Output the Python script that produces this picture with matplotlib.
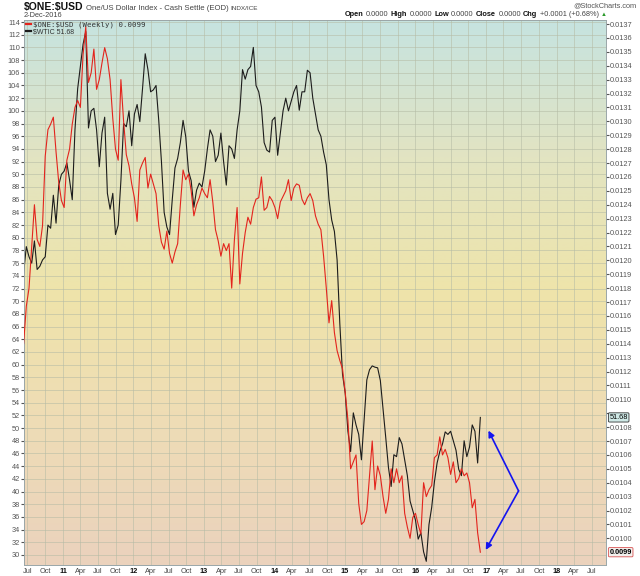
import matplotlib
matplotlib.use("Agg")
import matplotlib.pyplot as plt
import matplotlib.transforms as mtransforms
from matplotlib.colors import LinearSegmentedColormap
import numpy as np
import pandas as pd

plt.rcParams["font.family"] = ["Liberation Sans", "DejaVu Sans"]

# ---------------------------------------------------------------
# data (one point every two weeks)
# ---------------------------------------------------------------
start_date = "2010-06-11"

# $WTIC crude oil, left scale
wtic = [
    74.4, 78.6, 77.0, 76.0, 79.5, 75.0, 75.5, 76.5, 77.0, 82.0,
    81.5, 86.7, 82.3, 88.3, 90.0, 90.5, 91.8, 89.1, 86.0, 97.0,
    103.5, 107.0, 110.5, 112.5, 97.3, 100.0, 100.4, 97.0, 91.2, 96.5,
    99.0, 87.0, 84.5, 87.0, 80.5, 82.0, 89.0, 98.0, 97.5, 100.0,
    94.5, 99.5, 101.0, 98.3, 103.5, 109.0, 106.5, 103.0, 103.3, 104.0,
    98.5, 92.0, 84.0, 81.7, 80.5, 86.0, 91.0, 92.5, 95.0, 98.5,
    95.9, 90.5, 89.0, 84.8, 87.5, 88.6, 88.0, 90.5, 94.0, 97.0,
    96.0, 92.0, 93.0, 96.5, 92.0, 88.3, 94.5, 94.0, 92.5, 97.0,
    100.0, 106.5, 105.0, 106.5, 107.0, 110.0, 104.0, 103.0, 100.6, 95.0,
    93.8, 93.5, 98.5, 99.0, 93.0, 96.5, 100.0, 102.0, 100.0, 101.5,
    103.0, 104.0, 100.1, 103.0, 103.0, 106.4, 106.0, 102.0, 99.5, 97.0,
    96.0, 93.5, 91.5, 86.0, 82.8, 81.0, 76.5, 66.5, 58.5, 55.5,
    49.5, 46.3, 52.4, 50.5, 49.0, 45.0, 51.3, 57.6, 59.2, 59.8,
    59.6, 59.5, 57.5, 53.0, 48.5, 43.8, 40.8, 45.8, 45.5, 48.5,
    47.5, 45.0, 42.5, 38.5, 37.0, 35.5, 32.5, 33.5, 30.5, 29.0,
    34.8, 37.5, 41.5, 44.5, 46.3, 47.5, 49.4, 49.0, 49.5, 48.0,
    46.5, 43.5, 42.5, 48.0, 45.5, 47.0, 50.5, 49.5, 44.5, 51.68,
]

# $ONE:$USD (1 / US Dollar Index), right scale
one_usd = [
    0.01140, 0.01167, 0.01180, 0.01210, 0.01240, 0.01215, 0.01210, 0.01225, 0.01275, 0.01294,
    0.01298, 0.01303, 0.01278, 0.01256, 0.01243, 0.01238, 0.01272, 0.01280, 0.01298, 0.01310,
    0.01315, 0.01310, 0.01348, 0.01368, 0.01328, 0.01335, 0.01352, 0.01323, 0.01330, 0.01342,
    0.01353, 0.01345, 0.01330, 0.01302, 0.01280, 0.01272, 0.01330, 0.01300, 0.01276, 0.01268,
    0.01255, 0.01245, 0.01228, 0.01265, 0.01270, 0.01274, 0.01252, 0.01262, 0.01255, 0.01248,
    0.01225, 0.01213, 0.01208, 0.01221, 0.01205, 0.01198, 0.01206, 0.01212, 0.01240, 0.01265,
    0.01258, 0.01262, 0.01250, 0.01232, 0.01240, 0.01245, 0.01252, 0.01248, 0.01245, 0.01258,
    0.01242, 0.01222, 0.01214, 0.01203, 0.01212, 0.01207, 0.01212, 0.01180, 0.01215, 0.01238,
    0.01183, 0.01205, 0.01220, 0.01231, 0.01226, 0.01238, 0.01244, 0.01245, 0.01260, 0.01236,
    0.01238, 0.01246, 0.01243, 0.01238, 0.01230, 0.01242, 0.01246, 0.01250, 0.01258, 0.01243,
    0.01252, 0.01255, 0.01254, 0.01244, 0.01240, 0.01245, 0.01248, 0.01243, 0.01232, 0.01226,
    0.01222, 0.01203, 0.01180, 0.01155, 0.01171, 0.01148, 0.01135, 0.01128, 0.01122, 0.01105,
    0.01085, 0.01050, 0.01055, 0.01060, 0.01025, 0.01010, 0.01012, 0.01020, 0.01045, 0.01070,
    0.01035, 0.01052, 0.01045, 0.01030, 0.01018, 0.01028, 0.01050, 0.01040, 0.01050, 0.01040,
    0.01045, 0.01018, 0.01008, 0.01000, 0.01015, 0.01018, 0.01010, 0.01003, 0.01040, 0.01030,
    0.01035, 0.01038, 0.01058, 0.01060, 0.01073, 0.01060, 0.01064, 0.01058, 0.01046, 0.01055,
    0.01040, 0.01043, 0.01050, 0.01045, 0.01047, 0.01040, 0.01022, 0.01028, 0.01004, 0.00990,
]

dates = pd.date_range(start=start_date, periods=len(wtic), freq="14D")

left_ticks = np.arange(30, 115, 2)
right_ticks = np.round(np.arange(0.0100, 0.01375, 0.0001), 4)
tick_dates = pd.date_range("2010-07-01", "2018-07-01", freq="QS-JAN")

# hand-drawn arrows (left scale)
arrow_vertex = (pd.Timestamp("2017-06-18"), 40.1)
arrow_tips = [(pd.Timestamp("2017-01-13"), 49.6), (pd.Timestamp("2016-12-30"), 30.8)]

# ---------------------------------------------------------------
# figure
# ---------------------------------------------------------------
W, H = 640, 576
fig = plt.figure(figsize=(W / 100, H / 100), dpi=100, facecolor="white")
ax = fig.add_axes([24 / W, 1 - 565 / H, 582 / W, 545 / H])
ax2 = ax.twinx()

# background gradient
bg = LinearSegmentedColormap.from_list(
    "bg", ["#ebd2bd", "#eedcb6", "#efe4aa", "#e2e4c2", "#c6e3e0"])
ax.imshow(np.linspace(0, 1, 256).reshape(-1, 1), cmap=bg, origin="lower",
          aspect="auto", extent=[0, 1, 0, 1], transform=ax.transAxes, zorder=0)

ax.plot(dates, wtic, color="#1c1c1c", lw=0.8, zorder=3)
ax2.plot(dates, one_usd, color="#e3241d", lw=0.8, zorder=3)

ax.set_xlim(pd.Timestamp("2010-06-13"), pd.Timestamp("2018-09-14"))
ax.set_ylim(28.42, 114.32)
ax2.set_ylim(0.009808, 0.013729)

# grid
ax.set_yticks(left_ticks)
ax.set_xticks(tick_dates)
ax.grid(True, color="#b5bba5", lw=0.6, alpha=0.65)
for gl in ax.get_xgridlines() + ax.get_ygridlines():
    gl.set_zorder(1)

# tick labels
xl = []
for d in tick_dates:
    xl.append(f"{d.year % 100:02d}" if d.month == 1 else d.strftime("%b"))
ax.set_xticklabels(xl)
for lab, d in zip(ax.get_xticklabels(), tick_dates):
    if d.month == 1:
        lab.set_fontweight("bold")
        lab.set_color("#111111")
    else:
        lab.set_color("#444444")

ax.set_yticklabels([str(v) for v in left_ticks])
ax2.set_yticks(right_ticks)
# the 51.68 tag sits on top of the 0.0109 label
ax2.set_yticklabels(["" if abs(v - 0.0109) < 1e-7 else f"{v:.4f}" for v in right_ticks])

ax.tick_params(axis="x", labelsize=5.3, length=0, pad=2)
ax.tick_params(axis="y", labelsize=5.3, length=2, pad=1, colors="#555555")
ax2.tick_params(axis="y", labelsize=5.3, length=2, pad=1, colors="#555555")

for a in (ax, ax2):
    for sp in a.spines.values():
        sp.set_color("#9aa6a8")
        sp.set_linewidth(0.6)

# arrows
for tip in arrow_tips:
    ax.annotate("", xy=tip, xytext=arrow_vertex,
                arrowprops=dict(arrowstyle="-|>", color="#1414f0", lw=1.2,
                                mutation_scale=9, shrinkA=0, shrinkB=0),
                zorder=5)

# value tags on the right edge
tr_l = mtransforms.blended_transform_factory(ax.transAxes, ax.transData)
tr_r = mtransforms.blended_transform_factory(ax2.transAxes, ax2.transData)
ax2.annotate(f"{wtic[-1]:.2f}", xy=(1.006, wtic[-1]), xycoords=tr_l,
             fontsize=5.3, va="center", ha="left", annotation_clip=False,
             zorder=10,
             bbox=dict(boxstyle="round,pad=0.15", fc="#cfe9e6", ec="#333333", lw=0.6))
ax2.text(1.006, one_usd[-1], f"{one_usd[-1]:.4f}", transform=tr_r, fontsize=5.3,
         fontweight="bold", va="center", ha="left", clip_on=False, zorder=10,
         bbox=dict(boxstyle="round,pad=0.15", fc="#f3f1ee", ec="#d85050", lw=0.6))

# legend
leg = ax2.legend(
    handles=ax.get_lines()[:1] + ax2.get_lines()[:1],
    labels=[f"$WTIC {wtic[-1]:.2f}", f"$ONE:$USD (Weekly) {one_usd[-1]:.4f}"],
    loc="upper left", frameon=False, fontsize=5, handlelength=0.7,
    handletextpad=0.4, borderaxespad=0.15, labelspacing=0.05, borderpad=0.1,
    reverse=True)
for t in leg.get_texts():
    t.set_parse_math(False)
    t.set_color("#333333")
leg.get_texts()[0].set_family("DejaVu Sans Mono")
leg.get_texts()[0].set_fontsize(5.3)
for h in leg.legend_handles:
    h.set_linewidth(1.6)
leg.set_zorder(10)


# header text: pieces placed one after another on a shared baseline
def chain(pieces, x_px, y_px, gap=1.6):
    yf = 1 - y_px / H
    s, size, weight, color = pieces[0]
    prev = fig.text(x_px / W, yf, s, fontsize=size, fontweight=weight,
                    color=color, va="baseline", parse_math=False)
    for s, size, weight, color in pieces[1:]:
        prev = ax.annotate(s, xy=(1, yf), xycoords=(prev, "figure fraction"),
                           xytext=(gap, 0), textcoords="offset points",
                           fontsize=size, fontweight=weight, color=color,
                           va="baseline", ha="left", annotation_clip=False)
        prev.set_parse_math(False)
    return prev


chain([("$ONE:$USD", 7.5, "bold", "#111111"),
       ("One/US Dollar Index - Cash Settle (EOD)", 5.6, "normal", "#444444"),
       ("INDX/ICE", 4.6, "normal", "#444444")], 24, 10)
fig.text(24 / W, 1 - 17 / H, "2-Dec-2016", fontsize=5.3, color="#444444",
         va="baseline")
fig.text(636 / W, 1 - 7.5 / H, "@StockCharts.com", fontsize=5.3,
         color="#555555", ha="right", va="baseline")
chain([("Open", 5.3, "bold", "#111111"), ("0.0000", 5.3, "normal", "#444444"),
       ("High", 5.3, "bold", "#111111"), ("0.0000", 5.3, "normal", "#444444"),
       ("Low", 5.3, "bold", "#111111"), ("0.0000", 5.3, "normal", "#444444"),
       ("Close", 5.3, "bold", "#111111"), ("0.0000", 5.3, "normal", "#444444"),
       ("Chg", 5.3, "bold", "#111111"), ("+0.0001 (+0.68%)", 5.3, "normal", "#444444"),
       ("▲", 4.3, "normal", "#2a9a2a")], 345, 16.5)

fig.savefig("out.png", dpi=100, facecolor="white")
